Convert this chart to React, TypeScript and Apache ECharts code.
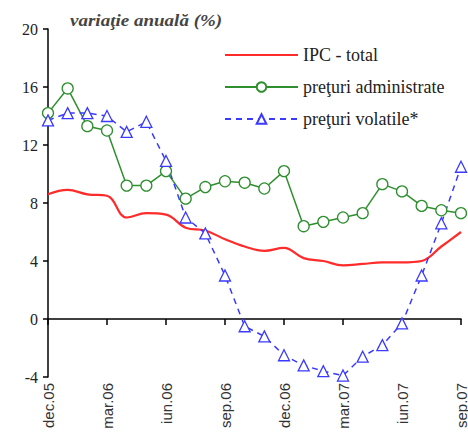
import React, { useEffect, useRef } from "react";
import * as echarts from "echarts";

const months = [
  "dec.05", "ian.06", "feb.06", "mar.06", "apr.06", "mai.06", "iun.06", "iul.06",
  "aug.06", "sep.06", "oct.06", "nov.06", "dec.06", "ian.07", "feb.07", "mar.07",
  "apr.07", "mai.07", "iun.07", "iul.07", "aug.07", "sep.07",
];

const ipcTotal = [8.6, 8.9, 8.6, 8.5, 7.0, 7.3, 7.2, 6.3, 6.1, 5.5, 5.0, 4.7, 4.9, 4.2, 4.0, 3.7, 3.8, 3.9, 3.9, 4.0, 5.0, 6.0];
const administrate = [14.2, 15.9, 13.3, 13.0, 9.2, 9.2, 10.2, 8.3, 9.1, 9.5, 9.4, 9.0, 10.2, 6.4, 6.7, 7.0, 7.3, 9.3, 8.8, 7.8, 7.5, 7.3];
const volatile = [13.7, 14.2, 14.2, 14.0, 12.9, 13.6, 10.9, 7.0, 5.9, 3.0, -0.5, -1.2, -2.5, -3.2, -3.6, -3.9, -2.6, -1.8, -0.3, 3.0, 6.6, 10.5];

const seriesNames = ["IPC - total", "preţuri administrate", "preţuri volatile*"];
const yMin = -4;
const yMax = 20;
const yStep = 4;
const titleText = "variaţie anuală (%)";

const FONT = "'Liberation Serif', 'Times New Roman', serif";
const SANS = "'Liberation Sans', Arial, sans-serif";

export default function App() {
  const ref = useRef<HTMLDivElement>(null);
  useEffect(() => {
    const chart = echarts.init(ref.current!, null, { renderer: "svg" });
    chart.setOption({
      animation: false,
      backgroundColor: "#fff",
      textStyle: { fontFamily: FONT },
      graphic: [
        {
          type: "text",
          x: 70,
          y: 12,
          scaleX: 1.12,
          style: {
            text: titleText,
            font: `italic bold 17px ${FONT}`,
            fill: "#444",
          },
        },
      ],
      legend: {
        orient: "vertical",
        left: 219,
        top: 40,
        itemWidth: 73,
        itemHeight: 12,
        itemGap: 12,
        textStyle: { fontFamily: FONT, fontSize: 18, color: "#222", lineHeight: 20 },
        data: [
          { name: seriesNames[0], itemStyle: { opacity: 0 } },
          { name: seriesNames[1] },
          { name: seriesNames[2] },
        ],
      },
      grid: { left: 48, right: 7, top: 29, bottom: 57, containLabel: false, outerBoundsMode: "none" },
      xAxis: [
        {
          type: "category",
          data: months,
          boundaryGap: false,
          axisLine: { show: true, onZero: true, lineStyle: { color: "#000", width: 1.5 } },
          axisTick: { show: true, interval: 2, length: 6, inside: false, lineStyle: { color: "#000", width: 1.5 } },
          axisLabel: { show: false },
          splitLine: { show: false },
        },
        {
          type: "category",
          data: months,
          boundaryGap: false,
          position: "bottom",
          axisLine: { show: false, onZero: false },
          axisTick: { show: false },
          axisLabel: {
            show: true,
            interval: 2,
            rotate: 90,
            margin: 6,
            fontFamily: SANS,
            fontSize: 15,
            lineHeight: 13,
            color: "#333",
          },
          splitLine: { show: false },
        },
      ],
      yAxis: {
        type: "value",
        min: yMin,
        max: yMax,
        interval: yStep,
        axisLine: { show: true, lineStyle: { color: "#000", width: 1.5 } },
        axisTick: { show: true, length: 5, lineStyle: { color: "#000", width: 1.5 } },
        axisLabel: { fontFamily: FONT, fontSize: 16, color: "#222", margin: 10 },
        splitLine: { show: false },
      },
      series: [
        {
          name: seriesNames[0],
          type: "line",
          data: ipcTotal,
          smooth: 0.4,
          symbol: "none",
          color: "#ff2a2a",
          lineStyle: { color: "#ff2a2a", width: 2.2 },
        },
        {
          name: seriesNames[1],
          type: "line",
          data: administrate,
          symbol: "circle",
          symbolSize: 11,
          color: "#2f8f2f",
          lineStyle: { color: "#2f8f2f", width: 1.5 },
          itemStyle: { color: "#fff", borderColor: "#2f8f2f", borderWidth: 1.3 },
        },
        {
          name: seriesNames[2],
          type: "line",
          data: volatile,
          symbol: "triangle",
          symbolSize: 11,
          color: "#3a3aff",
          lineStyle: { color: "#3a3aff", width: 1.5, type: [6, 5] },
          itemStyle: { color: "#fff", borderColor: "#3a3aff", borderWidth: 1.3 },
        },
      ],
    });
    return () => chart.dispose();
  }, []);
  return (
    <div
      ref={ref}
      style={{ position: "fixed", left: 0, top: 0, width: 468, height: 434, background: "#fff" }}
    />
  );
}
